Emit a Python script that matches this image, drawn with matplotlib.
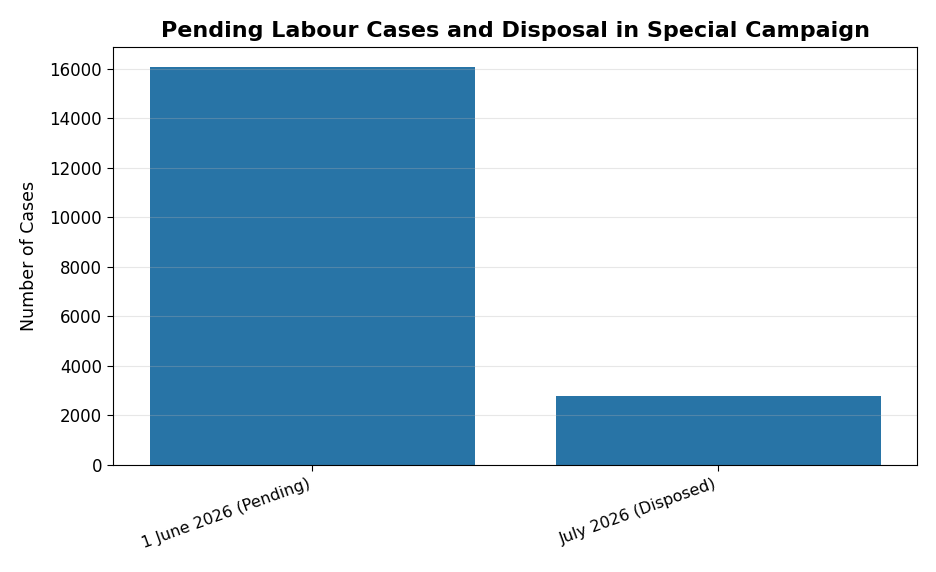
import matplotlib
matplotlib.use("Agg")
import matplotlib.pyplot as plt

categories = ["1 June 2026 (Pending)", "July 2026 (Disposed)"]
cases = [16070, 2790]

fig, ax = plt.subplots(figsize=(9.36, 5.72), dpi=100)

ax.bar(categories, cases, width=0.8, color="#2874a6")
ax.grid(axis="y", alpha=0.3)

ax.set_ylabel("Number of Cases", fontsize=12.5, labelpad=8)
ax.set_title("Pending Labour Cases and Disposal in Special Campaign",
             fontsize=16, fontweight="bold", pad=7)
ax.tick_params(axis="both", length=4.5)
ax.tick_params(axis="y", labelsize=12)
plt.setp(ax.get_xticklabels(), rotation=20, ha="right", fontsize=11.5)

plt.subplots_adjust(left=0.121, right=0.98, top=0.918, bottom=0.187)
plt.savefig("out.png", dpi=100)
